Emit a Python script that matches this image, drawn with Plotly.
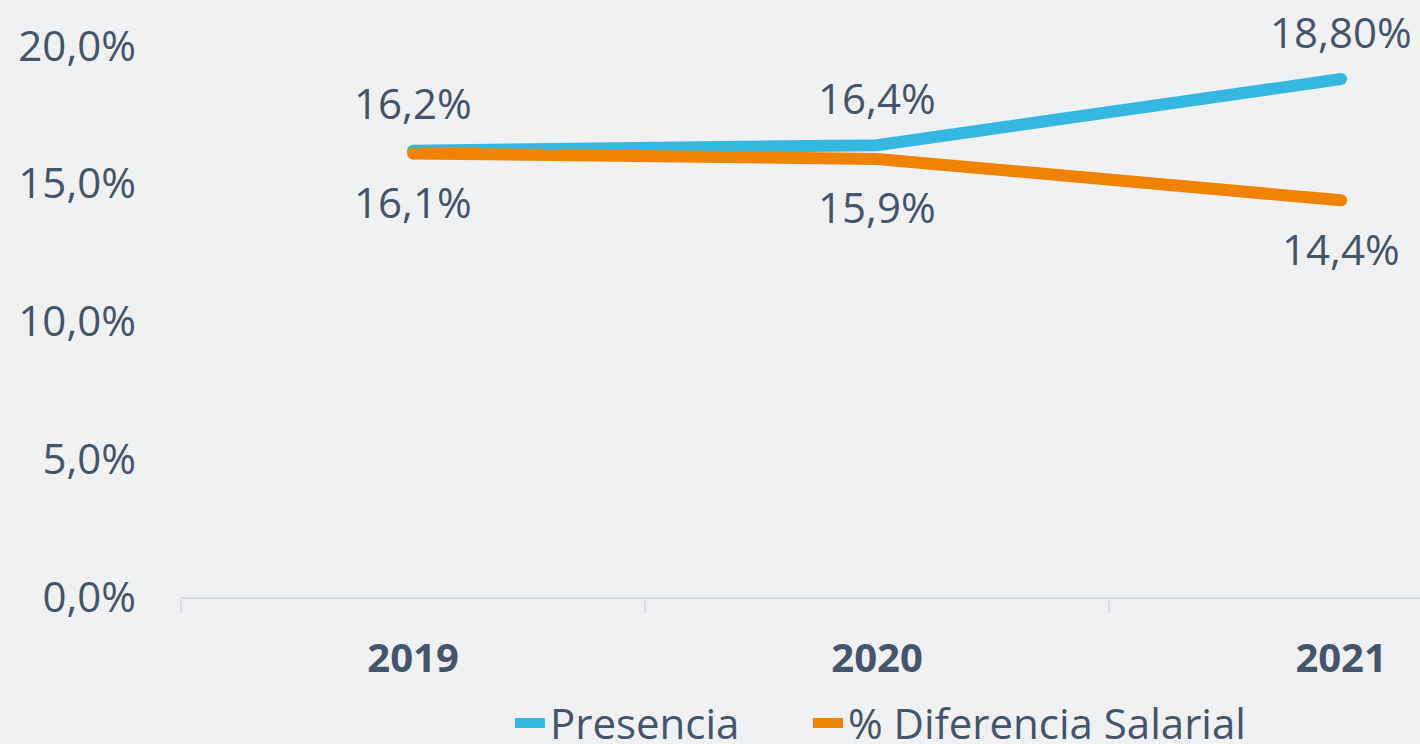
import plotly.graph_objects as go

years = ["2019", "2020", "2021"]
presencia = [16.2, 16.4, 18.8]
presencia_labels = ["16,2%", "16,4%", "18,80%"]
diferencia = [16.1, 15.9, 14.4]
diferencia_labels = ["16,1%", "15,9%", "14,4%"]
y_ticks = [0, 5, 10, 15, 20]
y_ticktext = ["0,0%", "5,0%", "10,0%", "15,0%", "20,0%"]

BG = "#F0F1F3"
TXT = "#44546A"
BLUE = "#35B8DF"
ORANGE = "#F08300"
FONT = "Open Sans"

xpos = list(range(len(years)))

fig = go.Figure()
fig.add_trace(go.Scatter(
    x=xpos, y=presencia, name="Presencia", mode="lines",
    line=dict(color=BLUE, width=12), showlegend=True, legend="legend",
))
fig.add_trace(go.Scatter(
    x=xpos, y=diferencia, name="% Diferencia Salarial", mode="lines",
    line=dict(color=ORANGE, width=12), showlegend=True, legend="legend2",
))
# round caps at the ends
for vals, col in [(presencia, BLUE), (diferencia, ORANGE)]:
    fig.add_trace(go.Scatter(
        x=[xpos[0], xpos[-1]], y=[vals[0], vals[-1]], mode="markers",
        marker=dict(color=col, size=12, line=dict(width=0)),
        showlegend=False, hoverinfo="skip",
    ))

for x, y, t in zip(xpos, presencia, presencia_labels):
    fig.add_annotation(x=x, y=y, text=t, showarrow=False, yshift=48,
                       font=dict(family=FONT, size=42, color=TXT))
for x, y, t in zip(xpos, diferencia, diferencia_labels):
    fig.add_annotation(x=x, y=y, text=t, showarrow=False, yshift=-48,
                       font=dict(family=FONT, size=42, color=TXT))

leg_common = dict(
    orientation="h", yanchor="middle", y=-0.229, xanchor="left",
    font=dict(family=FONT, size=42, color=TXT),
    bgcolor="rgba(0,0,0,0)", itemwidth=30, borderwidth=0,
)

fig.update_layout(
    width=1420, height=744,
    paper_bgcolor=BG, plot_bgcolor=BG,
    margin=dict(l=181, r=0, t=46, b=147, autoexpand=False),
    font=dict(family=FONT, color=TXT),
    xaxis=dict(
        range=[-0.5, 2.17], tickvals=xpos, ticktext=years,
        tickfont=dict(family=FONT, size=40, color=TXT, weight="bold"),
        showgrid=False, zeroline=False,
        showline=True, linecolor="#D9DDE3", linewidth=2,
        ticks="", ticklabelstandoff=25,
        minor=dict(tickvals=[-0.5, 0.5, 1.5], ticks="outside", ticklen=15,
                   tickcolor="#D9DDE3", tickwidth=2, showgrid=False),
    ),
    yaxis=dict(
        range=[0, 20], tickvals=y_ticks, ticktext=y_ticktext,
        tickfont=dict(family=FONT, size=42, color=TXT),
        showgrid=False, zeroline=False, showline=False,
        ticks="", ticklabelstandoff=44,
    ),
    legend=dict(x=0.2655, **leg_common),
    legend2=dict(x=0.506, **leg_common),
)

fig.write_html(
    "out.html",
    config={"displayModeBar": False},
    post_script="document.body.style.margin='0';document.body.style.padding='0';",
)
